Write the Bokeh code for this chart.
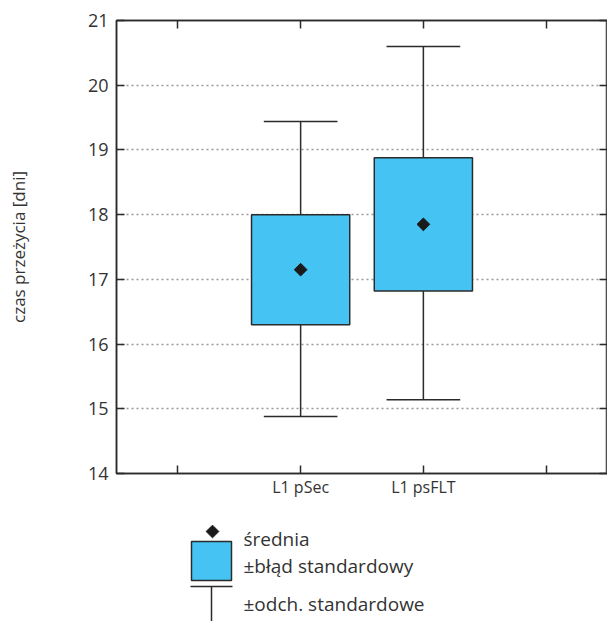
from bokeh.plotting import figure
from bokeh.models import Range1d, LinearAxis, Grid, FixedTicker, ColumnDataSource
from bokeh.layouts import column
from bokeh.core.properties import value
from bokeh.embed import file_html
from bokeh.resources import INLINE
import math

# ---- data ----
categories = ["L1 pSec", "L1 psFLT"]
positions = [1, 2]
means = [17.15, 17.85]
se_low = [16.30, 16.82]
se_high = [18.00, 18.88]
sd_low = [14.88, 15.14]
sd_high = [19.44, 20.60]
y_ticks = [14, 15, 16, 17, 18, 19, 20, 21]
x_ticks = [0, 1, 2, 3]
y_label = "czas przeżycia [dni]"
legend_labels = ["średnia", "±błąd standardowy", "±odch. standardowe"]

FONT = "Open Sans"
TXT = "#333333"
DARK = "#2b2b2b"
FILL = "#45C4F3"

box_w = 0.8
cap_w = 0.6

src = ColumnDataSource(dict(
    x=positions, mean=means, se_low=se_low, se_high=se_high,
    sd_low=sd_low, sd_high=sd_high,
    left=[v - box_w / 2 for v in positions], right=[v + box_w / 2 for v in positions],
    cl=[v - cap_w / 2 for v in positions], cr=[v + cap_w / 2 for v in positions],
))

p = figure(width=607, height=505, x_range=Range1d(-0.5, 3.5), y_range=Range1d(14, 21),
           output_backend="svg", toolbar_location=None,
           x_axis_location=None, y_axis_location=None,
           min_border_left=116, min_border_right=0, min_border_top=20, min_border_bottom=32)
for g in p.select(type=Grid):
    g.visible = False
p.outline_line_color = DARK
p.outline_line_width = 1.5
p.background_fill_color = "white"
p.border_fill_color = "white"

def style_axis(ax, labels=True, ticks=None):
    ax.axis_line_color = DARK
    ax.axis_line_width = 1.5
    ax.major_tick_in = 8
    ax.major_tick_out = 0
    ax.major_tick_line_color = DARK
    ax.major_tick_line_width = 1.5
    ax.minor_tick_line_color = None
    ax.major_label_text_font = FONT
    ax.major_label_text_color = TXT
    if not labels:
        ax.major_label_overrides = {t: "" for t in ticks}
        ax.major_label_standoff = 0
        ax.major_label_text_font_size = "1px"

left = LinearAxis(ticker=FixedTicker(ticks=y_ticks))
style_axis(left)
left.major_label_text_font_size = "18px"
left.major_label_standoff = 8
left.axis_label = y_label
left.axis_label_text_font = FONT
left.axis_label_text_font_style = "normal"
left.axis_label_text_font_size = "17px"
left.axis_label_text_color = TXT
left.axis_label_standoff = 55
p.add_layout(left, "left")

right = LinearAxis(ticker=FixedTicker(ticks=y_ticks))
style_axis(right, labels=False, ticks=y_ticks)
right.axis_line_color = "#bbbbbb"
p.add_layout(right, "right")

bottom = LinearAxis(ticker=FixedTicker(ticks=x_ticks))
style_axis(bottom)
bottom.major_label_overrides = {0: "", 1: categories[0], 2: categories[1], 3: ""}
bottom.major_label_text_font_size = "16px"
bottom.major_label_standoff = 2
p.add_layout(bottom, "below")

top = LinearAxis(ticker=FixedTicker(ticks=x_ticks))
style_axis(top, labels=False, ticks=x_ticks)
p.add_layout(top, "above")

grid = Grid(dimension=1, ticker=FixedTicker(ticks=y_ticks[1:-1]),
            grid_line_color="#999999", grid_line_width=1.5, grid_line_dash="2 3")
p.add_layout(grid)

# whiskers
p.segment(x0="x", y0="se_high", x1="x", y1="sd_high", source=src, line_color=DARK, line_width=1.5)
p.segment(x0="x", y0="sd_low", x1="x", y1="se_low", source=src, line_color=DARK, line_width=1.5)
p.segment(x0="cl", y0="sd_high", x1="cr", y1="sd_high", source=src, line_color=DARK, line_width=1.5)
p.segment(x0="cl", y0="sd_low", x1="cr", y1="sd_low", source=src, line_color=DARK, line_width=1.5)
# boxes
p.quad(left="left", right="right", bottom="se_low", top="se_high", source=src,
       fill_color=FILL, line_color=DARK, line_width=1.5)
# means
p.scatter(x="x", y="mean", source=src, marker="square", size=9, angle=math.pi / 4,
          fill_color="#1a1a1a", line_color="#1a1a1a")

# ---- legend figure (x/y in page pixels, frame aligned with main frame) ----
leg = figure(width=607, height=116, x_range=Range1d(116, 607), y_range=Range1d(621, 505),
             output_backend="svg", toolbar_location=None,
             min_border_left=116, min_border_right=0, min_border_top=0, min_border_bottom=0,
             x_axis_location=None, y_axis_location=None)
for g in leg.select(type=Grid):
    g.visible = False
leg.outline_line_color = None
leg.background_fill_color = "white"
leg.border_fill_color = "white"

leg.scatter(x=[212], y=[531], marker="square", size=9, angle=math.pi / 4,
            fill_color="#1a1a1a", line_color="#1a1a1a")
leg.quad(left=[191], right=[231], top=[541], bottom=[580], fill_color=FILL,
         line_color=DARK, line_width=1.5)
leg.segment(x0=[190], y0=[586], x1=[232], y1=[586], line_color=DARK, line_width=1.5)
leg.segment(x0=[211], y0=[586], x1=[211], y1=[625], line_color=DARK, line_width=1.5)
leg.text(x=[243, 243, 243], y=[538, 565, 603], text=legend_labels,
         text_font=value(FONT), text_font_size="19px", text_color=TXT,
         text_baseline="alphabetic", text_align="left")

layout = column(p, leg, spacing=0)
open("out.html", "w").write(file_html(layout, INLINE))
